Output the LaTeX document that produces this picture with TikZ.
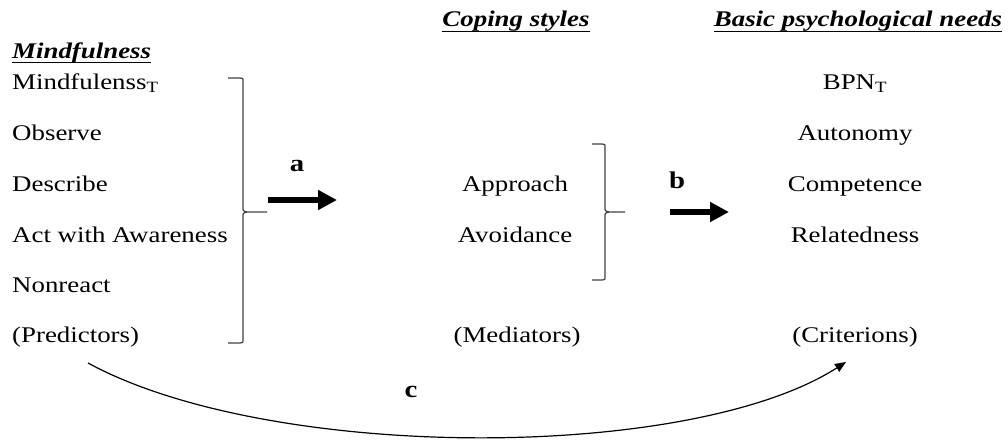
\documentclass[tikz,border=0pt]{standalone}
\usepackage{fontspec}
\setmainfont{Liberation Serif}[FakeStretch=1.2]
\usetikzlibrary{arrows.meta}
\begin{document}
\begin{tikzpicture}[x=1pt,y=-1pt,
  txt/.style={inner sep=0pt,font=\fontsize{22.4}{25}\selectfont},
  head/.style={txt,font=\fontsize{22.4}{25}\selectfont\bfseries\itshape},
  lbl/.style={txt,font=\fontsize{24}{26}\selectfont\bfseries},
  brace/.style={draw=black!75,line width=1.2pt},
  fat/.style={line width=6pt,-{Triangle[length=19pt,width=19pt]}},
  thin/.style={line width=1.2pt,-{Triangle[length=11pt,width=9pt]}}]
\useasboundingbox (0,0) rectangle (1008,439);

% column headings
\node[head,anchor=base west] (hm) at (12,58) {Mindfulness};
\node[head,anchor=base] (hc) at (516,27) {Coping styles};
\node[head,anchor=base] (hb) at (858,27) {Basic psychological needs};
\foreach \h in {hm,hc,hb}
  \draw[line width=1.6pt] ([yshift=-4.5pt]\h.base west) -- ([yshift=-4.5pt]\h.base east);

% predictors
\node[txt,anchor=base west] (m1) at (12,89) {Mindfulenss\textsubscript{T}};
\node[txt,anchor=base west] (m2) at (12,140) {Observe};
\node[txt,anchor=base west] (m3) at (12,191) {Describe};
\node[txt,anchor=base west] (m4) at (12,242) {Act with Awareness};
\node[txt,anchor=base west] (m5) at (12,292) {Nonreact};
\node[txt,anchor=base west] (m6) at (12,342) {(Predictors)};

% mediators
\node[txt,anchor=base] (c1) at (515,191) {Approach};
\node[txt,anchor=base] (c2) at (515,242) {Avoidance};
\node[txt,anchor=base] (c3) at (517,342) {(Mediators)};

% criteria
\node[txt,anchor=base] (b1) at (855,89) {BPN\textsubscript{T}};
\node[txt,anchor=base] (b2) at (855,140) {Autonomy};
\node[txt,anchor=base] (b3) at (855,191) {Competence};
\node[txt,anchor=base] (b4) at (855,242) {Relatedness};
\node[txt,anchor=base] (b5) at (855,342) {(Criterions)};

% braces
\coordinate (t1) at (267,212);
\draw[brace] (228,78) -- (240,78) .. controls (243,78) .. (243,82) -- (243,207)
  .. controls (243,211) .. (247,212) -- (t1);
\draw[brace] (228,343) -- (240,343) .. controls (243,343) .. (243,339) -- (243,217)
  .. controls (243,213) .. (247,212);
\coordinate (t2) at (625,212);
\draw[brace] (592,144) -- (602,144) .. controls (605,144) .. (605,148) -- (605,207)
  .. controls (605,211) .. (609,212) -- (t2);
\draw[brace] (592,280) -- (602,280) .. controls (605,280) .. (605,276) -- (605,217)
  .. controls (605,213) .. (609,212);

% paths a, b, c
\coordinate (a0) at (268,200);
\coordinate (a1) at (337,200);
\draw[fat] (a0) -- (a1);
\node[lbl] (la) at (297,166) {a};
\coordinate (b0) at (670,212);
\coordinate (b1e) at (729,212);
\draw[fat] (b0) -- (b1e);
\node[lbl] (lb) at (677,180) {b};
\coordinate (c0) at (88,363);
\coordinate (c1e) at (846,362);
\draw[thin] (c0) .. controls (270,462) and (690,462) .. (c1e);
\node[lbl] (lc) at (411,392) {c};
\end{tikzpicture}
\end{document}
